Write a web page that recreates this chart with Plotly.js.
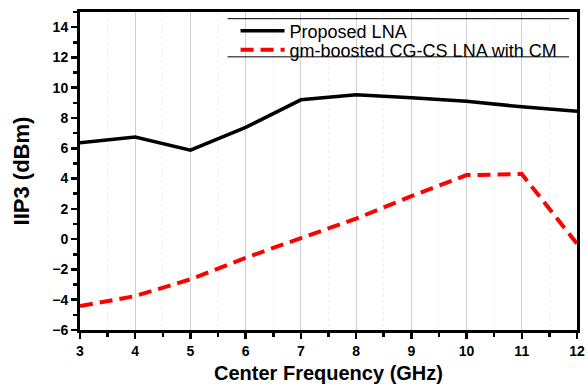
<!DOCTYPE html>
<html><head><meta charset="utf-8">
<script src="https://cdn.plot.ly/plotly-3.0.1.min.js"></script>
<style>html,body{margin:0;padding:0;background:#fff}#chart{width:587px;height:385px}</style>
</head><body><div id="chart"></div>
<script>
const freq = [3, 4, 5, 6, 7, 8, 9, 10, 11, 12];
const proposedLNA = [6.37, 6.74, 5.88, 7.38, 9.2, 9.54, 9.33, 9.1, 8.74, 8.45];
const cgcsLNA = [-4.42, -3.76, -2.65, -1.23, 0.07, 1.35, 2.84, 4.23, 4.3, -0.3];
const names = ['Proposed LNA', 'gm-boosted CG-CS LNA with CM'];

const traces = [
  {x: freq, y: proposedLNA, name: names[0], mode: 'lines', legend: 'legend', line: {color: '#000', width: 3.5}},
  {x: freq, y: cgcsLNA, name: names[1], mode: 'lines', legend: 'legend2', line: {color: '#ff0000', width: 4, dash: '13px,7px'}}
];
const FONT = 'Arial, Liberation Sans';
const axisCommon = {
  showline: true, linecolor: '#000', linewidth: 3, mirror: true,
  ticks: 'outside', ticklen: 6, tickwidth: 2.5, tickcolor: '#000',
  tickfont: {family: FONT, size: 14, color: '#000', weight: 'bold'},
  zeroline: false
};
const legendCommon = {
  xanchor: 'left', yanchor: 'middle', bgcolor: 'rgba(0,0,0,0)', borderwidth: 0,
  font: {family: FONT, size: 18, color: '#000'}, itemwidth: 44
};
const layout = {
  width: 587, height: 385,
  margin: {l: 80, r: 10, t: 12, b: 55},
  paper_bgcolor: '#fff', plot_bgcolor: '#fff',
  showlegend: true,
  legend: Object.assign({}, legendCommon, {x: 0.313, y: 0.94}),
  legend2: Object.assign({}, legendCommon, {x: 0.313, y: 0.88}),
  xaxis: Object.assign({}, axisCommon, {
    range: [3, 12], dtick: 1, tick0: 3,
    showgrid: true, gridcolor: '#d0d0d0', gridwidth: 1,
    minor: {dtick: 0.5, ticks: 'outside', ticklen: 4, tickwidth: 2.5, tickcolor: '#000', showgrid: true, gridcolor: '#eeeeee', griddash: 'dot'},
    title: {text: 'Center Frequency (GHz)', font: {family: FONT, size: 20, color: '#000', weight: 'bold'}, standoff: 9}
  }),
  yaxis: Object.assign({}, axisCommon, {
    range: [-6, 15], dtick: 2, tick0: -6,
    showgrid: false,
    minor: {dtick: 1, ticks: 'outside', ticklen: 4, tickwidth: 2.5, tickcolor: '#000', showgrid: false},
    title: {text: 'IIP3 (dBm)', font: {family: FONT, size: 22, color: '#000', weight: 'bold'}, standoff: 17}
  }),
  shapes: [
    {type: 'line', xref: 'paper', yref: 'paper', x0: 0.297, x1: 0.984, y0: 0.979, y1: 0.979, line: {color: '#000', width: 1}},
    {type: 'line', xref: 'paper', yref: 'paper', x0: 0.297, x1: 0.984, y0: 0.859, y1: 0.859, line: {color: '#000', width: 1}}
  ]
};
Plotly.newPlot('chart', traces, layout, {displayModeBar: false, staticPlot: true});
</script></body></html>
